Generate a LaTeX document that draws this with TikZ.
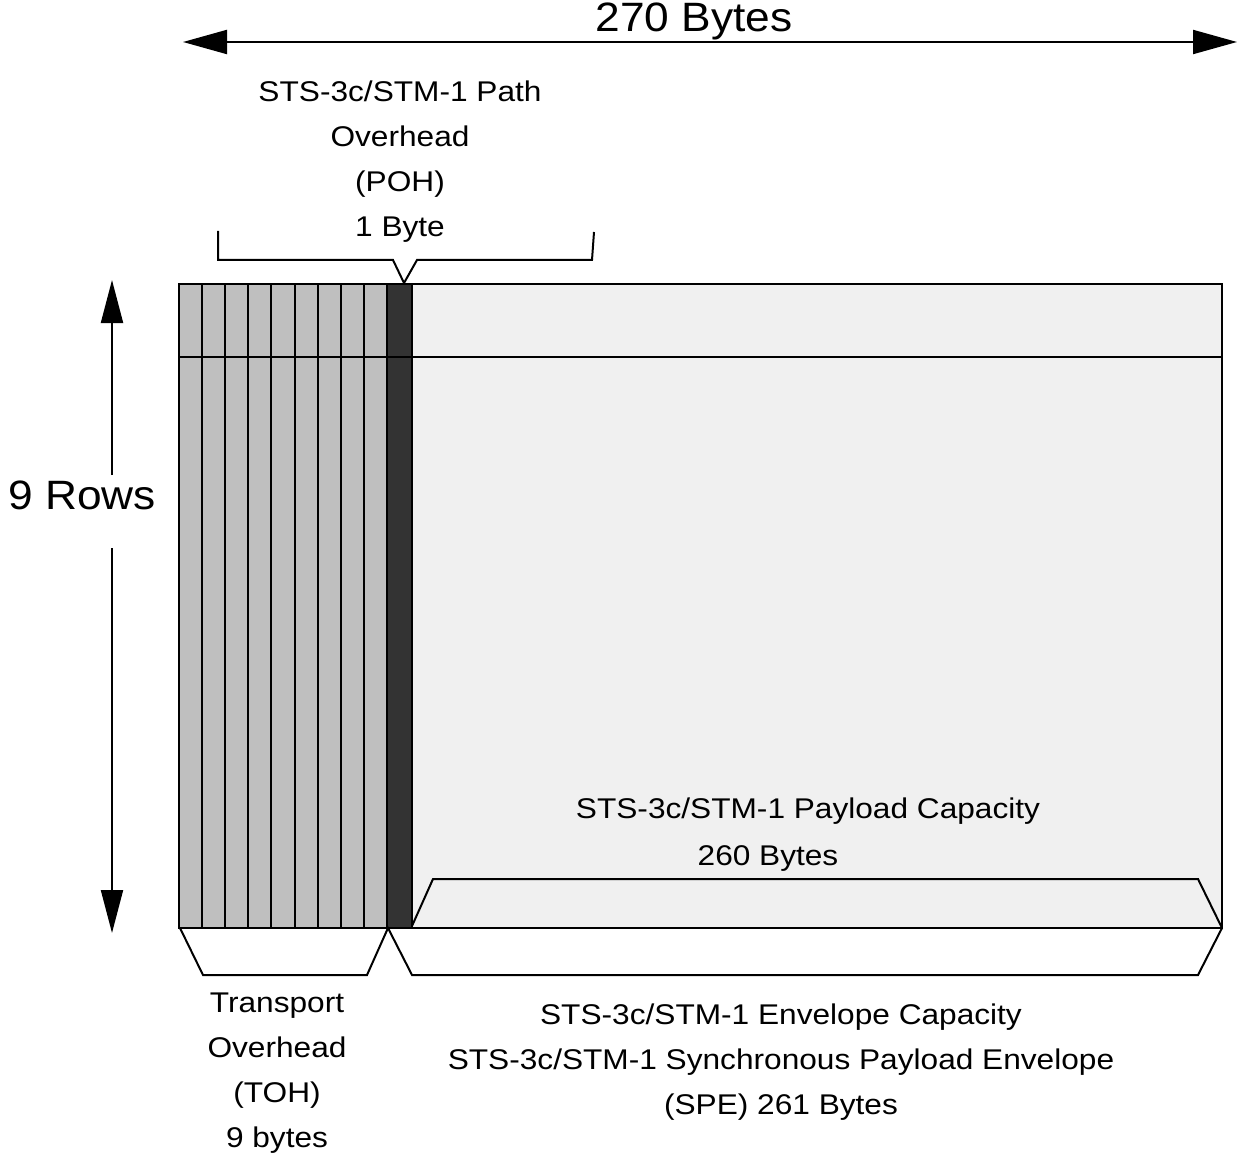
\documentclass[tikz,border=0pt]{standalone}
\usepackage{fontspec}
\setmainfont{Liberation Sans}
\newfontfamily\framefont[FakeStretch=1.11]{Liberation Sans}
\newfontfamily\titlefont[FakeStretch=1.08]{Liberation Sans}
\usetikzlibrary{arrows.meta, positioning}
\definecolor{tohgray}{HTML}{BFBFBF}
\definecolor{pohgray}{HTML}{333333}
\definecolor{spegray}{HTML}{F0F0F0}
\tikzset{
  frame line/.style={
    draw=black, line width=2pt
  },
  frame bracket/.style={
    draw=black, line width=2pt, line join=miter
  },
  frame arrow/.style={
    {Triangle[length=44pt, width=24pt]}-{Triangle[length=44pt, width=24pt]},
    line width=2pt, draw=black
  },
  rows arrow/.style={
    -{Triangle[length=43pt, width=22pt]}, line width=2pt, draw=black
  },
  frame label/.style={
    font=\framefont\fontsize{28.5}{45}\selectfont,
    align=center, inner sep=0pt
  },
  frame title/.style={
    font=\titlefont\fontsize{41}{45}\selectfont,
    inner sep=0pt
  }
}

\begin{document}
\begin{tikzpicture}[x=1pt, y=-1pt]
  \useasboundingbox (0,0) rectangle (1241,1155);

  \fill[tohgray] (179,284) rectangle (387,928);
  \fill[pohgray] (387,284) rectangle (412,928);
  \fill[spegray] (412,284) rectangle (1222,928);
  \foreach \i in {1,...,9}
    \draw[frame line] (179+23.1*\i,284) -- (179+23.1*\i,928);
  \draw[frame line] (412,284) -- (412,928);
  \draw[frame line] (179,357) -- (1222,357);
  \draw[frame line] (179,284) rectangle (1222,928);

  \coordinate (bytesL) at (183,42);
  \coordinate (bytesR) at (1237,42);
  \coordinate (rowsT) at (112,280);
  \coordinate (rowsB) at (112,933);
  \coordinate (rowsN) at (112,475);
  \coordinate (rowsS) at (112,548);

  \node (bytes) [frame title, anchor=base] at (694,32) {270 Bytes};
  \node (rows) [frame title, anchor=base] at (82,509) {9 Rows};

  \draw[frame arrow] (bytesL) -- (bytesR);
  \draw[rows arrow] (rowsN) -- (rowsT);
  \draw[rows arrow] (rowsS) -- (rowsB);

  \node (poh) [frame label, anchor=north] at (400,81)
    {STS-3c/STM-1 Path\\Overhead\\(POH)\\1 Byte};
  \draw[frame bracket] (218,231) -- (218,260) -- (393,260) -- (404,283)
    -- (417,260) -- (592,260) -- (594,232);

  \node (payload) [frame label, anchor=base] at (808,818)
    {STS-3c/STM-1 Payload Capacity};
  \node (payloadsz) [frame label, anchor=base] at (768,865) {260 Bytes};
  \draw[frame bracket] (412,926) -- (433,879) -- (1198,879) -- (1222,928);

  \draw[frame bracket] (180,928) -- (203,975) -- (367,975) -- (388,928)
    -- (412,975) -- (1198,975) -- (1222,928);
  \node (toh) [frame label, anchor=north] at (277,993)
    {Transport\\Overhead\\(TOH)\\9 bytes};
  \node (spe) [frame label, anchor=north] at (781,1004)
    {STS-3c/STM-1 Envelope Capacity\\STS-3c/STM-1 Synchronous Payload Envelope\\(SPE) 261 Bytes};
\end{tikzpicture}
\end{document}
